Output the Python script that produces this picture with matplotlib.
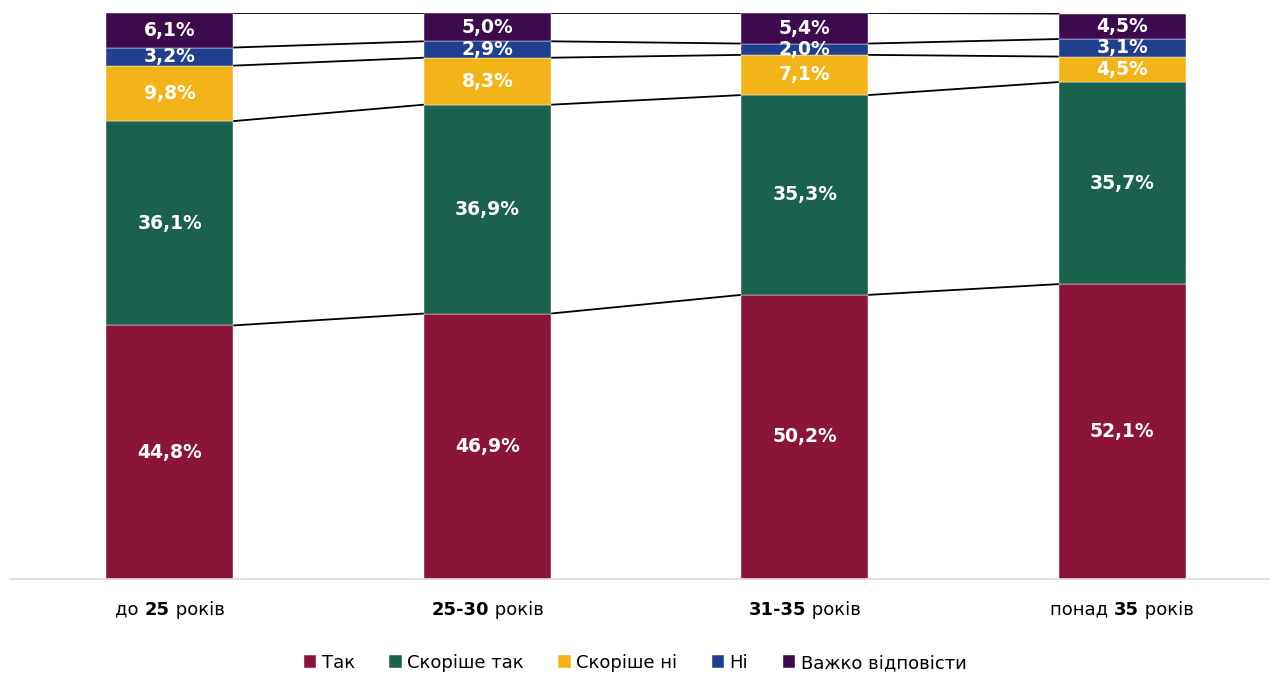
#!/usr/bin/env python3

import numpy as np
import matplotlib
matplotlib.use('Agg')
import matplotlib.pyplot as plt
from matplotlib.offsetbox import TextArea, HPacker, AnnotationBbox


# -------------------- #
# -- DATA            -- #
# -------------------- #

groups = [
    [('до ', False), ('25', True), (' років', False)],
    [('25-30', True), (' років', False)],
    [('31-35', True), (' років', False)],
    [('понад ', False), ('35', True), (' років', False)],
]

series_names = ['Так', 'Скоріше так', 'Скоріше ні', 'Ні', 'Важко відповісти']

tak          = [44.8, 46.9, 50.2, 52.1]
skorishe_tak = [36.1, 36.9, 35.3, 35.7]
skorishe_ni  = [9.8, 8.3, 7.1, 4.5]
ni           = [3.2, 2.9, 2.0, 3.1]
vazhko       = [6.1, 5.0, 5.4, 4.5]

colors = ['#8B1538', '#1A624E', '#F2B418', '#213F8F', '#3E0A4E']

FONT = ['DejaVu Sans']
plt.rcParams['font.family'] = FONT


# -------------------- #
# -- PLOT            -- #
# -------------------- #

fig = plt.figure(figsize=(12.7, 6.75), dpi=100)
ax = fig.add_axes([10 / 1270, 1 - 579 / 675, 1 - 10 / 1270, 566 / 675])

values = [tak, skorishe_tak, skorishe_ni, ni, vazhko]
x = np.arange(len(groups))
width = 0.4

bottom = np.zeros(len(groups))
tops = []
for name, vals, color in zip(series_names, values, colors):
    vals = np.array(vals)
    ax.bar(
        x, vals, width,
        bottom    = bottom,
        color     = color,
        edgecolor = 'white',
        linewidth = 0.3,
        label     = name,
        zorder    = 2,
    )
    for xi, b, v in zip(x, bottom, vals):
        ax.text(
            xi, b + v / 2, f'{v:.1f}%'.replace('.', ','),
            ha = 'center', va = 'center',
            color = 'white', fontsize = 13.5, fontweight = 'bold',
            zorder = 3,
        )
    bottom = bottom + vals
    tops.append(bottom.copy())

# series lines between bars
for top in tops:
    for i in range(len(groups) - 1):
        ax.plot(
            [x[i] + width / 2, x[i + 1] - width / 2],
            [top[i], top[i + 1]],
            color = 'black', linewidth = 1.3, zorder = 1,
        )

ax.set_xlim(-0.504, 3.466)
ax.set_ylim(0, 100)
ax.set_xticks([])
ax.set_yticks([])
for side in ['top', 'left', 'right']:
    ax.spines[side].set_visible(False)
ax.spines['bottom'].set_color('#d9d9d9')
ax.spines['bottom'].set_linewidth(1.2)

# category labels with bold parts
for xi, parts in zip(x, groups):
    areas = [
        TextArea(
            txt,
            textprops = dict(
                fontsize   = 13,
                fontweight = 'bold' if bold else 'normal',
                color      = 'black',
                family     = FONT,
            ),
        )
        for txt, bold in parts
    ]
    box = HPacker(children=areas, pad=0, sep=0, align='baseline')
    ab = AnnotationBbox(
        box, (xi, 0),
        xycoords      = ('data', 'axes fraction'),
        xybox         = (0, -22),
        boxcoords     = 'offset points',
        box_alignment = (0.5, 0.5),
        frameon       = False,
    )
    ax.add_artist(ab)

fig.legend(
    loc            = 'center',
    bbox_to_anchor = (0.5, 1 - 663 / 675),
    ncol           = 5,
    frameon        = False,
    fontsize       = 13,
    handlelength   = 0.7,
    handleheight   = 0.7,
    handletextpad  = 0.3,
    columnspacing  = 1.9,
)

plt.savefig('out.png', dpi=100, facecolor='white')
plt.close()
